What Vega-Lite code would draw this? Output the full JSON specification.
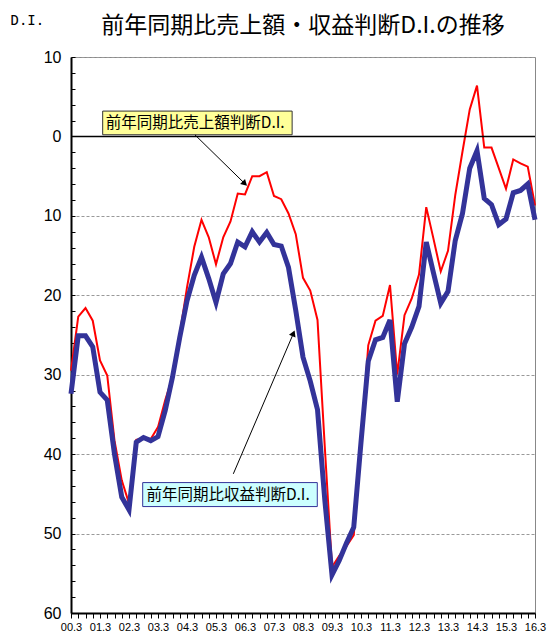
{
  "$schema": "https://vega.github.io/schema/vega-lite/v6.json",
  "width": 464,
  "height": 556,
  "autosize": "none",
  "padding": {"left": 71, "top": 57, "right": 12, "bottom": 22},
  "background": "white",
  "config": {
    "view": {"stroke": "#888888", "strokeWidth": 1},
    "font": "Liberation Sans",
    "axis": {"labelOverlap": false, "labelColor": "#000000", "domainColor": "#000000", "domainWidth": 2, "tickColor": "#000000", "tickWidth": 1, "title": null},
    "axisX": {"grid": false, "tickSize": 5, "labelFontSize": 11, "labelPadding": 3, "labelFlush": false},
    "axisY": {"grid": true, "gridDash": [3, 2], "gridColor": "#999999", "gridWidth": 1, "tickSize": -4, "labelFontSize": 16, "labelPadding": 14}
  },
  "title": {"text": "前年同期比売上額・収益判断D.I.の推移", "font": "Noto Sans CJK JP", "fontSize": 23, "fontWeight": "normal", "color": "#000000", "anchor": "middle", "offset": 0, "dy": 25},
  "datasets": {
    "di": [
    {"period": "00.3", "q": 0, "sales": -29.5, "profit": -32.4},
    {"period": "00.6", "q": 1, "sales": -22.7, "profit": -25.1},
    {"period": "00.9", "q": 2, "sales": -21.6, "profit": -25.1},
    {"period": "00.12", "q": 3, "sales": -23.2, "profit": -26.5},
    {"period": "01.3", "q": 4, "sales": -28.2, "profit": -32.2},
    {"period": "01.6", "q": 5, "sales": -30.1, "profit": -33.2},
    {"period": "01.9", "q": 6, "sales": -38.3, "profit": -40.0},
    {"period": "01.12", "q": 7, "sales": -43.3, "profit": -45.4},
    {"period": "02.3", "q": 8, "sales": -46.2, "profit": -47.0},
    {"period": "02.6", "q": 9, "sales": -38.2, "profit": -38.5},
    {"period": "02.9", "q": 10, "sales": -38.0, "profit": -37.9},
    {"period": "02.12", "q": 11, "sales": -38.1, "profit": -38.3},
    {"period": "03.3", "q": 12, "sales": -36.6, "profit": -37.8},
    {"period": "03.6", "q": 13, "sales": -33.2, "profit": -34.5},
    {"period": "03.9", "q": 14, "sales": -30.3, "profit": -30.3},
    {"period": "03.12", "q": 15, "sales": -24.9, "profit": -25.3},
    {"period": "04.3", "q": 16, "sales": -19.0, "profit": -20.7},
    {"period": "04.6", "q": 17, "sales": -13.9, "profit": -17.5},
    {"period": "04.9", "q": 18, "sales": -10.5, "profit": -15.2},
    {"period": "04.12", "q": 19, "sales": -12.7, "profit": -17.9},
    {"period": "05.3", "q": 20, "sales": -16.1, "profit": -20.9},
    {"period": "05.6", "q": 21, "sales": -12.7, "profit": -17.3},
    {"period": "05.9", "q": 22, "sales": -10.7, "profit": -16.0},
    {"period": "05.12", "q": 23, "sales": -7.2, "profit": -13.3},
    {"period": "06.3", "q": 24, "sales": -7.3, "profit": -13.9},
    {"period": "06.6", "q": 25, "sales": -5.0, "profit": -12.0},
    {"period": "06.9", "q": 26, "sales": -5.0, "profit": -13.3},
    {"period": "06.12", "q": 27, "sales": -4.5, "profit": -12.1},
    {"period": "07.3", "q": 28, "sales": -7.5, "profit": -13.6},
    {"period": "07.6", "q": 29, "sales": -7.9, "profit": -13.8},
    {"period": "07.9", "q": 30, "sales": -9.7, "profit": -16.5},
    {"period": "07.12", "q": 31, "sales": -12.3, "profit": -21.9},
    {"period": "08.3", "q": 32, "sales": -17.8, "profit": -27.8},
    {"period": "08.6", "q": 33, "sales": -19.4, "profit": -30.8},
    {"period": "08.9", "q": 34, "sales": -23.1, "profit": -34.4},
    {"period": "08.12", "q": 35, "sales": -39.0, "profit": -45.7},
    {"period": "09.3", "q": 36, "sales": -54.2, "profit": -55.2},
    {"period": "09.6", "q": 37, "sales": -52.8, "profit": -53.4},
    {"period": "09.9", "q": 38, "sales": -51.6, "profit": -51.2},
    {"period": "09.12", "q": 39, "sales": -50.2, "profit": -49.2},
    {"period": "10.3", "q": 40, "sales": -39.0, "profit": -38.5},
    {"period": "10.6", "q": 41, "sales": -26.3, "profit": -28.3},
    {"period": "10.9", "q": 42, "sales": -23.2, "profit": -25.6},
    {"period": "10.12", "q": 43, "sales": -22.6, "profit": -25.3},
    {"period": "11.3", "q": 44, "sales": -18.7, "profit": -23.1},
    {"period": "11.6", "q": 45, "sales": -30.0, "profit": -33.4},
    {"period": "11.9", "q": 46, "sales": -22.5, "profit": -26.1},
    {"period": "11.12", "q": 47, "sales": -20.4, "profit": -24.0},
    {"period": "12.3", "q": 48, "sales": -17.4, "profit": -21.4},
    {"period": "12.6", "q": 49, "sales": -8.9, "profit": -13.3},
    {"period": "12.9", "q": 50, "sales": -12.9, "profit": -17.2},
    {"period": "12.12", "q": 51, "sales": -17.0, "profit": -21.0},
    {"period": "13.3", "q": 52, "sales": -14.4, "profit": -19.5},
    {"period": "13.6", "q": 53, "sales": -7.4, "profit": -13.1},
    {"period": "13.9", "q": 54, "sales": -1.9, "profit": -9.7},
    {"period": "13.12", "q": 55, "sales": 3.4, "profit": -4.0},
    {"period": "14.3", "q": 56, "sales": 6.4, "profit": -1.8},
    {"period": "14.6", "q": 57, "sales": -1.4, "profit": -7.8},
    {"period": "14.9", "q": 58, "sales": -1.4, "profit": -8.6},
    {"period": "14.12", "q": 59, "sales": -4.0, "profit": -11.1},
    {"period": "15.3", "q": 60, "sales": -6.6, "profit": -10.4},
    {"period": "15.6", "q": 61, "sales": -2.9, "profit": -7.1},
    {"period": "15.9", "q": 62, "sales": -3.4, "profit": -6.8},
    {"period": "15.12", "q": 63, "sales": -3.8, "profit": -6.0},
    {"period": "16.3", "q": 64, "sales": -8.7, "profit": -10.5}
    ],
    "one": [{"k": 1}]
  },
  "layer": [
    {
      "data": {"name": "di"},
      "mark": {"type": "line", "color": "#ff0000", "strokeWidth": 2},
      "encoding": {
        "x": {"field": "q", "type": "quantitative",
          "scale": {"domain": [0, 64], "nice": false, "zero": false},
          "axis": {"title": null, "labelOverlap": false, "tickCount": 500, "values": [0,1,2,3,4,5,6,7,8,9,10,11,12,13,14,15,16,17,18,19,20,21,22,23,24,25,26,27,28,29,30,31,32,33,34,35,36,37,38,39,40,41,42,43,44,45,46,47,48,49,50,51,52,53,54,55,56,57,58,59,60,61,62,63,64],
            "labelExpr": "datum.value % 4 == 0 ? ((floor(datum.value / 4) < 10 ? '0' : '') + floor(datum.value / 4) + '.3') : ''"}},
        "y": {"field": "sales", "type": "quantitative",
          "scale": {"domain": [-60, 10], "nice": false, "zero": false},
          "axis": {"title": "D.I.", "labelOverlap": false, "tickCount": 500, "titleAngle": 0, "titleX": -61, "titleY": -44, "titleAlign": "left", "titleBaseline": "top", "titleFont": "DejaVu Sans Mono", "titleFontSize": 14, "titleFontWeight": "normal", "titleColor": "#000000",
            "values": [-60,-58,-56,-54,-52,-50,-48,-46,-44,-42,-40,-38,-36,-34,-32,-30,-28,-26,-24,-22,-20,-18,-16,-14,-12,-10,-8,-6,-4,-2,0,2,4,6,8,10],
            "labelExpr": "datum.value % 10 == 0 ? format(abs(datum.value), 'd') : ''",
            "gridOpacity": {"condition": {"test": "datum.value % 10 == 0 && datum.value != 0", "value": 1}, "value": 0}}}
      }
    },
    {
      "data": {"name": "one"},
      "mark": {"type": "rule", "color": "#000000", "strokeWidth": 1.5},
      "encoding": {"y": {"datum": 0, "type": "quantitative"}}
    },
    {
      "data": {"name": "di"},
      "mark": {"type": "line", "color": "#333399", "strokeWidth": 5},
      "encoding": {
        "x": {"field": "q", "type": "quantitative"},
        "y": {"field": "profit", "type": "quantitative"}
      }
    },
    {
      "data": {"name": "one"},
      "mark": {"type": "rect", "fill": "#ffff99", "stroke": "#333333", "strokeWidth": 1},
      "encoding": {
        "x": {"datum": 4.37, "type": "quantitative"},
        "x2": {"datum": 30.5},
        "y": {"datum": 3.19, "type": "quantitative"},
        "y2": {"datum": 0.21}
      }
    },
    {
      "data": {"name": "one"},
      "mark": {"type": "rect", "fill": "#ccffff", "stroke": "#333399", "strokeWidth": 1},
      "encoding": {
        "x": {"datum": 9.89, "type": "quantitative"},
        "x2": {"datum": 33.97},
        "y": {"datum": -43.58, "type": "quantitative"},
        "y2": {"datum": -46.6}
      }
    },
    {
      "data": {"name": "one"},
      "mark": {"type": "text", "align": "left", "baseline": "middle", "font": "Noto Sans CJK JP", "fontSize": 15.5, "color": "#000000"},
      "encoding": {
        "x": {"datum": 4.8, "type": "quantitative"},
        "y": {"datum": 1.7, "type": "quantitative"},
        "text": {"value": "前年同期比売上額判断D.I."}
      }
    },
    {
      "data": {"name": "one"},
      "mark": {"type": "text", "align": "left", "baseline": "middle", "font": "Noto Sans CJK JP", "fontSize": 15.5, "color": "#000000"},
      "encoding": {
        "x": {"datum": 10.4, "type": "quantitative"},
        "y": {"datum": -45.1, "type": "quantitative"},
        "text": {"value": "前年同期比収益判断D.I."}
      }
    },
    {
      "data": {"name": "one"},
      "mark": {"type": "rule", "color": "#000000", "strokeWidth": 1},
      "encoding": {
        "x": {"datum": 17.1, "type": "quantitative"},
        "y": {"datum": 0.2, "type": "quantitative"},
        "x2": {"datum": 23.97},
        "y2": {"datum": -5.94}
      }
    },
    {
      "data": {"name": "one"},
      "mark": {"type": "rule", "color": "#000000", "strokeWidth": 1},
      "encoding": {
        "x": {"datum": 22.39, "type": "quantitative"},
        "y": {"datum": -42.48, "type": "quantitative"},
        "x2": {"datum": 30.68},
        "y2": {"datum": -24.8}
      }
    },
    {
      "data": {"name": "one"},
      "mark": {"type": "point", "shape": "triangle-up", "filled": true, "color": "#000000", "size": 50, "opacity": 1, "angle": 134},
      "encoding": {
        "x": {"datum": 23.97, "type": "quantitative"},
        "y": {"datum": -5.94, "type": "quantitative"}
      }
    },
    {
      "data": {"name": "one"},
      "mark": {"type": "point", "shape": "triangle-up", "filled": true, "color": "#000000", "size": 50, "opacity": 1, "angle": 23},
      "encoding": {
        "x": {"datum": 30.68, "type": "quantitative"},
        "y": {"datum": -24.8, "type": "quantitative"}
      }
    }
  ]
}
